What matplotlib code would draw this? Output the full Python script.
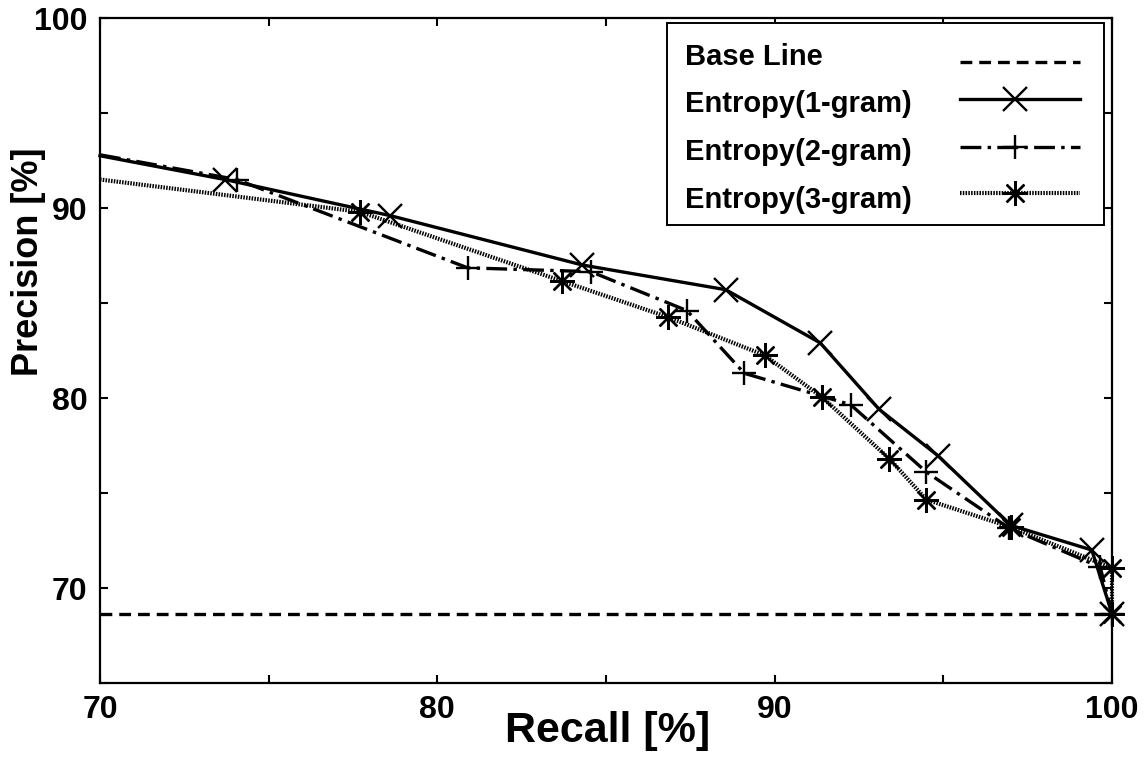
import matplotlib
matplotlib.use("Agg")
import matplotlib.pyplot as plt
from matplotlib.ticker import MultipleLocator
from matplotlib.patches import Rectangle

# Precision / recall curves (values in %)
recall_base = [70.0, 100.0]
precision_base = [68.65, 68.65]

recall_1gram = [70.0, 73.7, 78.6, 84.3, 88.55, 91.35, 93.1, 94.85, 97.0, 99.4, 100.0]
precision_1gram = [92.75, 91.5, 89.6, 87.0, 85.7, 82.9, 79.4, 76.95, 73.3, 72.0, 68.65]

recall_2gram = [70.0, 74.05, 80.9, 84.55, 87.4, 89.1, 92.25, 94.5, 96.95, 99.65, 100.0]
precision_2gram = [92.8, 91.5, 86.85, 86.65, 84.6, 81.3, 79.65, 76.1, 73.15, 71.1, 68.65]

recall_3gram = [70.0, 77.7, 83.7, 86.85, 89.7, 91.4, 93.4, 94.5, 97.0, 100.0, 100.0]
precision_3gram = [91.5, 89.8, 86.15, 84.25, 82.25, 80.05, 76.8, 74.65, 73.2, 71.05, 68.65]

labels = ["Base Line", "Entropy(1-gram)", "Entropy(2-gram)", "Entropy(3-gram)"]
x_ticks = [70, 80, 90, 100]
y_ticks = [70, 80, 90, 100]

plt.rcParams["font.family"] = ["Liberation Sans", "DejaVu Sans"]
plt.rcParams["font.weight"] = "bold"
plt.rcParams["lines.scale_dashes"] = False

fig = plt.figure(figsize=(11.45, 7.6), dpi=100)
ax = fig.add_axes([100 / 1145, 1 - 683 / 760, 1012 / 1145, 665 / 760])

LW = 2.4
styles = [
    dict(linestyle=(0, (8.5, 5.0)), linewidth=LW, marker=None),
    dict(linestyle="-", linewidth=LW, marker="x", markersize=17, markeredgewidth=1.7),
    dict(linestyle=(0, (15, 4.5, 2.5, 4.5)), linewidth=LW, marker="+",
         markersize=17, markeredgewidth=1.7),
    dict(linestyle=(0, (1.1, 0.9)), linewidth=3.0, marker=(8, 2, 0),
         markersize=18, markeredgewidth=1.7),
]

series = [
    (recall_base, precision_base),
    (recall_1gram, precision_1gram),
    (recall_2gram, precision_2gram),
    (recall_3gram, precision_3gram),
]

for (xs, ys), st in zip(series, styles):
    kw = dict(st)
    if kw["marker"] is not None:
        kw["markevery"] = slice(1, None)
    ax.plot(xs, ys, color="black", dash_capstyle="butt", clip_on=False, **kw)

ax.set_xlim(70, 100)
ax.set_ylim(65, 100)
ax.xaxis.set_major_locator(MultipleLocator(10))
ax.xaxis.set_minor_locator(MultipleLocator(5))
ax.yaxis.set_major_locator(MultipleLocator(10))
ax.yaxis.set_minor_locator(MultipleLocator(5))
ax.set_xticks(x_ticks)
ax.set_yticks(y_ticks)
ax.tick_params(which="both", direction="in", top=True, right=True,
               length=6, width=1.5, color="black")
ax.tick_params(which="major", labelsize=23, pad=9)
for sp in ax.spines.values():
    sp.set_linewidth(1.6)

ax.set_xlabel("Recall [%]", fontsize=31, fontweight="bold")
ax.set_ylabel("Precision [%]", fontsize=26, fontweight="bold")
ax.xaxis.set_label_coords(0.502, -0.042)
ax.yaxis.set_label_coords(-0.053, 0.633)

# Key box: labels left-aligned, line samples on the right
box = Rectangle((0.560, 0.689), 0.432, 0.3035, transform=ax.transAxes,
                facecolor="white", edgecolor="black", linewidth=1.4, zorder=5)
ax.add_patch(box)
text_base = [0.9293, 0.8586, 0.7865, 0.7143]
handle_y = [0.934, 0.878, 0.806, 0.737]
for lab, tb, hy, st in zip(labels, text_base, handle_y, styles):
    ax.text(0.578, tb, lab, transform=ax.transAxes, fontsize=21,
            fontweight="bold", va="baseline", ha="left", zorder=6)
    kw = dict(st)
    if kw["marker"] is not None:
        kw["markevery"] = [1]
    ax.plot([0.850, 0.904, 0.968], [hy, hy, hy], transform=ax.transAxes,
            color="black", dash_capstyle="butt", clip_on=False, zorder=6, **kw)

fig.savefig("out.png", dpi=100)
